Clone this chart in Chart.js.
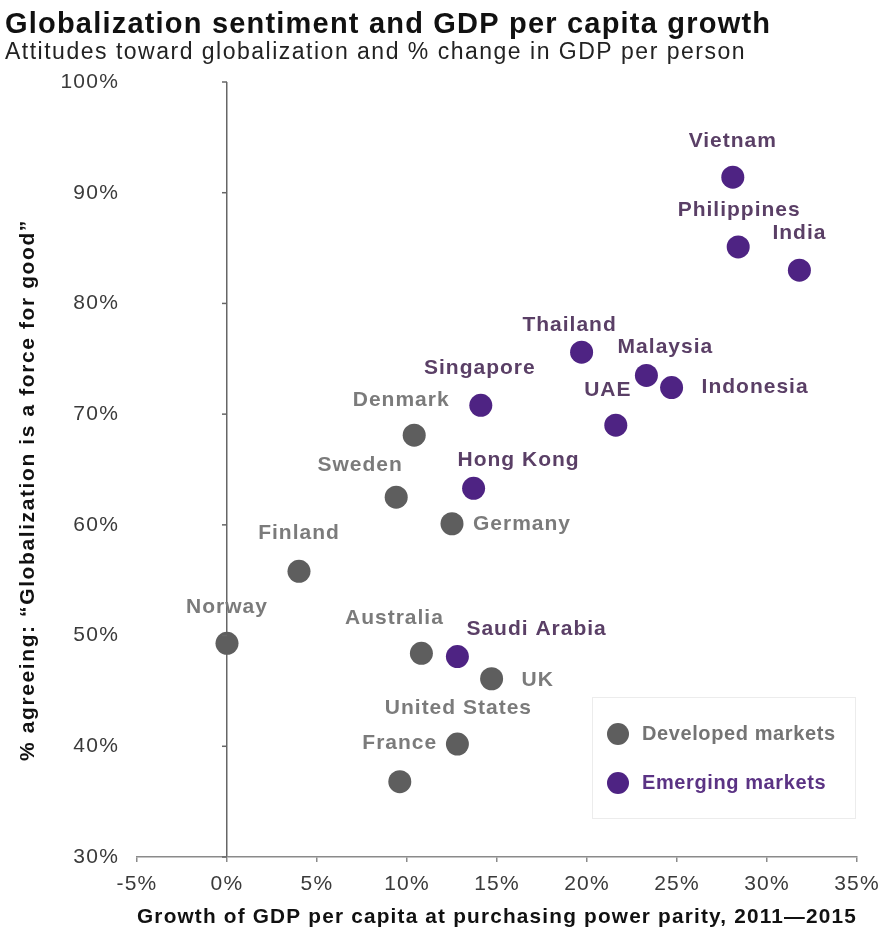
<!DOCTYPE html>
<html>
<head>
<meta charset="utf-8">
<script src="https://cdn.jsdelivr.net/npm/chart.js@4"></script>
<style>
  body { margin: 0; background: #fff; }
  canvas { display: block; }
</style>
</head>
<body>
<canvas id="chart" width="883" height="936"></canvas>
<script>
const developedNames = ['Denmark', 'Sweden', 'Germany', 'Finland', 'Norway', 'Australia', 'UK', 'United States', 'France'];
const developedGrowth = [10.4, 9.4, 12.5, 4.0, 0.0, 10.8, 14.7, 12.8, 9.6];
const developedAgree = [68.1, 62.5, 60.1, 55.8, 49.3, 48.4, 46.1, 40.2, 36.8];

const emergingNames = ['Vietnam', 'Philippines', 'India', 'Thailand', 'Malaysia', 'Indonesia', 'Singapore', 'UAE', 'Hong Kong', 'Saudi Arabia'];
const emergingGrowth = [28.1, 28.4, 31.8, 19.7, 23.3, 24.7, 14.1, 21.6, 13.7, 12.8];
const emergingAgree = [91.4, 85.1, 83.0, 75.6, 73.5, 72.4, 70.8, 69.0, 63.3, 48.1];

const xTicks = [-5, 0, 5, 10, 15, 20, 25, 30, 35];
const yTicks = [30, 40, 50, 60, 70, 80, 90, 100];

// where each name sits relative to its dot: [dx, dy, align]
const developedLabelPos = [[-13, -35, 'center'], [-36, -32, 'center'], [21, 0, 'left'], [0, -38, 'center'], [0, -36, 'center'], [-27, -35, 'center'], [30, 1, 'left'], [1, -36, 'center'], [0, -39, 'center']];
const emergingLabelPos = [[0, -36, 'center'], [1, -37, 'center'], [0, -37, 'center'], [-12, -27, 'center'], [19, -28, 'center'], [30, 0, 'left'], [-1, -37, 'center'], [-8, -35, 'center'], [45, -28, 'center'], [9, -27, 'left']];

const FONT = '"Liberation Sans", Arial, Helvetica, sans-serif';
const GREY = '#5e5e5e';
const PURPLE = '#4e2383';

const toPoints = (xs, ys) => xs.map((x, i) => ({ x: x, y: ys[i] }));

const headerPlugin = {
    id: 'header',
    beforeDraw(chart) {
        const ctx = chart.ctx;
        ctx.letterSpacing = '1.2px';
        ctx.save();
        ctx.textAlign = 'left';
        ctx.textBaseline = 'alphabetic';
        ctx.fillStyle = '#111';
        ctx.letterSpacing = '1.2px';
        ctx.font = 'bold 29px ' + FONT;
        ctx.fillText('Globalization sentiment and GDP per capita growth', 5, 33);
        ctx.fillStyle = '#222';
        ctx.letterSpacing = '1.5px';
        ctx.font = '23px ' + FONT;
        ctx.fillText('Attitudes toward globalization and % change in GDP per person', 5, 59);

        // y axis title
        ctx.translate(28, 490);
        ctx.rotate(-Math.PI / 2);
        ctx.textAlign = 'center';
        ctx.textBaseline = 'middle';
        ctx.fillStyle = '#111';
        ctx.letterSpacing = '1.6px';
        ctx.font = 'bold 21px ' + FONT;
        ctx.fillText('% agreeing: \u201cGlobalization is a force for good\u201d', 0, 0);
        ctx.restore();
    }
};

const yAxisTicksPlugin = {
    id: 'yAxisTicks',
    afterDraw(chart) {
        const ctx = chart.ctx;
        const x0 = chart.scales.x.getPixelForValue(0);
        const ys = chart.scales.y;
        ctx.save();
        ctx.strokeStyle = '#666';
        ctx.lineWidth = 1.5;
        yTicks.forEach(v => {
            const py = ys.getPixelForValue(v);
            ctx.beginPath();
            ctx.moveTo(x0 - 5, py);
            ctx.lineTo(x0, py);
            ctx.stroke();
        });
        ctx.restore();
    }
};

const pointLabelsPlugin = {
    id: 'pointLabels',
    afterDatasetsDraw(chart) {
        const ctx = chart.ctx;
        ctx.save();
        ctx.font = 'bold 21px ' + FONT;
        ctx.letterSpacing = '1px';
        ctx.textBaseline = 'middle';
        chart.data.datasets.forEach((ds, di) => {
            const meta = chart.getDatasetMeta(di);
            meta.data.forEach((pt, i) => {
                const pos = ds.labelPos[i];
                ctx.fillStyle = ds.labelColor;
                ctx.textAlign = pos[2];
                ctx.fillText(ds.names[i], pt.x + pos[0], pt.y + pos[1]);
            });
        });
        ctx.restore();
    }
};

const legendBoxPlugin = {
    id: 'legendBox',
    afterDraw(chart) {
        const ctx = chart.ctx;
        ctx.save();
        ctx.strokeStyle = '#ececec';
        ctx.lineWidth = 1;
        ctx.strokeRect(592.5, 697.5, 263, 121);
        ctx.font = 'bold 20px ' + FONT;
        ctx.letterSpacing = '0.6px';
        ctx.textBaseline = 'middle';
        ctx.textAlign = 'left';
        const rows = [734, 783];
        chart.data.datasets.forEach((ds, i) => {
            ctx.fillStyle = ds.backgroundColor;
            ctx.beginPath();
            ctx.arc(618, rows[i], 11, 0, Math.PI * 2);
            ctx.fill();
            ctx.fillStyle = ds.legendColor;
            ctx.fillText(ds.label, 642, rows[i]);
        });
        ctx.restore();
    }
};

new Chart(document.getElementById('chart'), {
    type: 'scatter',
    data: {
        datasets: [{
            label: 'Developed markets',
            names: developedNames,
            labelPos: developedLabelPos,
            data: toPoints(developedGrowth, developedAgree),
            backgroundColor: GREY,
            borderColor: GREY,
            labelColor: '#7b7b7b',
            legendColor: '#747474',
            pointRadius: 11.5,
            pointHoverRadius: 11.5,
            borderWidth: 0
        }, {
            label: 'Emerging markets',
            names: emergingNames,
            labelPos: emergingLabelPos,
            data: toPoints(emergingGrowth, emergingAgree),
            backgroundColor: PURPLE,
            borderColor: PURPLE,
            labelColor: '#5a3f66',
            legendColor: '#5b3384',
            pointRadius: 11.5,
            pointHoverRadius: 11.5,
            borderWidth: 0
        }]
    },
    options: {
        responsive: false,
        devicePixelRatio: 1,
        animation: false,
        events: [],
        layout: { padding: { top: 82, right: 26, bottom: 0, left: 0 } },
        plugins: {
            legend: { display: false },
            tooltip: { enabled: false }
        },
        scales: {
            x: {
                type: 'linear',
                min: -5,
                max: 35,
                afterBuildTicks: axis => { axis.ticks = xTicks.map(v => ({ value: v })); },
                afterFit: axis => {
                    axis.height = 79;
                    axis.paddingLeft = 0;
                    axis.paddingRight = 0;
                },
                border: { display: true, color: '#8a8a8a', width: 1.5 },
                grid: {
                    drawTicks: true,
                    tickLength: 5,
                    tickColor: '#8a8a8a',
                    lineWidth: 1.5,
                    color: c => (c.tick && c.tick.value === 0 ? '#666' : 'rgba(0,0,0,0)')
                },
                ticks: {
                    padding: 10,
                    color: '#3a3a3a',
                    font: { family: FONT, size: 21 },
                    callback: v => v + '%'
                },
                title: {
                    display: true,
                    text: 'Growth of GDP per capita at purchasing power parity, 2011\u20142015',
                    color: '#111',
                    font: { family: FONT, size: 21, weight: 'bold' },
                    padding: { top: 0, bottom: 6 }
                }
            },
            y: {
                type: 'linear',
                min: 30,
                max: 100,
                afterBuildTicks: axis => { axis.ticks = yTicks.map(v => ({ value: v })); },
                afterFit: axis => { axis.width = 137; },
                border: { display: false },
                grid: { display: false, drawTicks: false },
                ticks: {
                    padding: 18,
                    color: '#3a3a3a',
                    font: { family: FONT, size: 21 },
                    callback: v => v + '%'
                },
                title: { display: false }
            }
        }
    },
    plugins: [headerPlugin, yAxisTicksPlugin, pointLabelsPlugin, legendBoxPlugin]
});
</script>
</body>
</html>
